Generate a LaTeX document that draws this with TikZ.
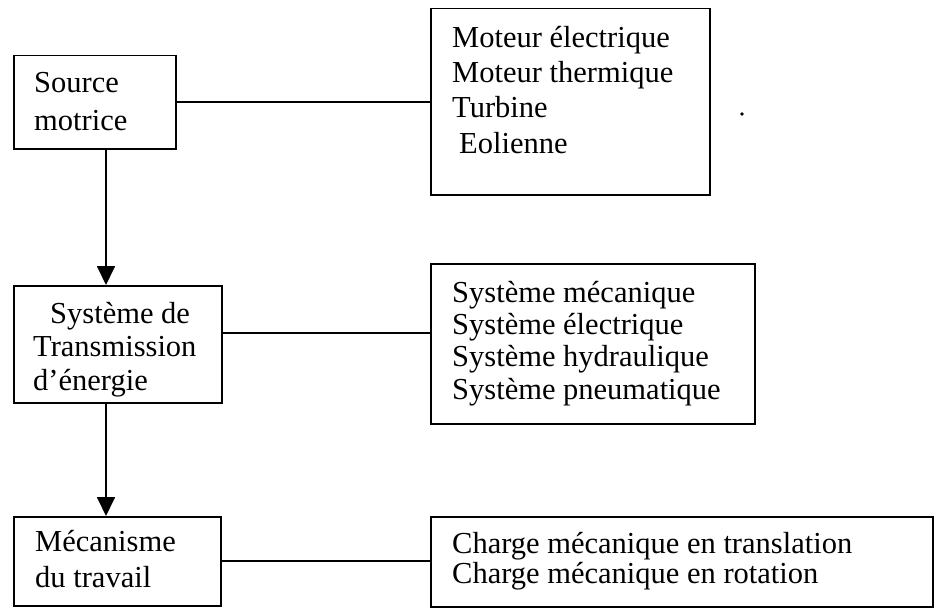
\documentclass[tikz,border=0pt]{standalone}
\usepackage{fontspec}
\setmainfont{Liberation Serif}
\usetikzlibrary{arrows.meta,calc}
\begin{document}
\begin{tikzpicture}[x=1pt,y=-1pt,
  frame/.style={draw, line width=1.5pt, inner sep=0pt, anchor=north west},
  lbl/.style={anchor=base west, inner sep=0pt, align=left},
  link/.style={line width=1.5pt},
  arr/.style={line width=1.8pt, -{Triangle[width=18pt,length=19pt]}}]
\useasboundingbox (0,0) rectangle (941,607);

% boxes
\node[frame, minimum width=162pt, minimum height=93pt] (src) at (13,55) {};
\node[frame, minimum width=279pt, minimum height=186pt] (mot) at (430,8) {};
\node[frame, minimum width=208pt, minimum height=117pt] (trans) at (13,285) {};
\node[frame, minimum width=324pt, minimum height=160pt] (sys) at (430,263) {};
\node[frame, minimum width=207pt, minimum height=89pt] (mec) at (13,516) {};
\node[frame, minimum width=502pt, minimum height=90pt] (chg) at (430,516) {};

% texts (anchored at the baseline of the last line)
\node[lbl, font=\fontsize{30.5}{37}\selectfont] (srct) at (34,130) {Source\\motrice};
\node[lbl, font=\fontsize{30.5}{35.3}\selectfont] (mott) at (452,153)
  {Moteur électrique\\Moteur thermique\\Turbine\\\hspace*{7pt}Eolienne};
\begin{scope}
  \clip (14,286) rectangle (220,397);
  \node[lbl, font=\fontsize{30.5}{33.5}\selectfont] (transt) at (33,390)
    {\hspace*{17pt}Système de\\Transmission\\d'énergie};
\end{scope}
\node[lbl, font=\fontsize{30.5}{32.3}\selectfont] (syst) at (452,399)
  {Système mécanique\\Système électrique\\Système hydraulique\\Système pneumatique};
\node[lbl, font=\fontsize{30.5}{36}\selectfont] (mect) at (35,587) {Mécanisme\\du travail};
\node[lbl, font=\fontsize{30.5}{30}\selectfont] (chgt) at (452,583)
  {Charge mécanique en translation\\Charge mécanique en rotation};

% connectors
\coordinate (ax) at (106,0);
\coordinate (c2) at (0,333);
\coordinate (c3) at (0,561);
\draw[link] (src.east) -- (src.east -| mot.west);
\draw[link] (trans.east |- c2) -- (sys.west |- c2);
\draw[link] (mec.east |- c3) -- (chg.west |- c3);
\draw[arr] (src.south -| ax) -- (trans.north -| ax);
\draw[arr] (trans.south -| ax) -- (mec.north -| ax);

% stray dot
\fill (742,114) circle (1.8pt);
\end{tikzpicture}
\end{document}
